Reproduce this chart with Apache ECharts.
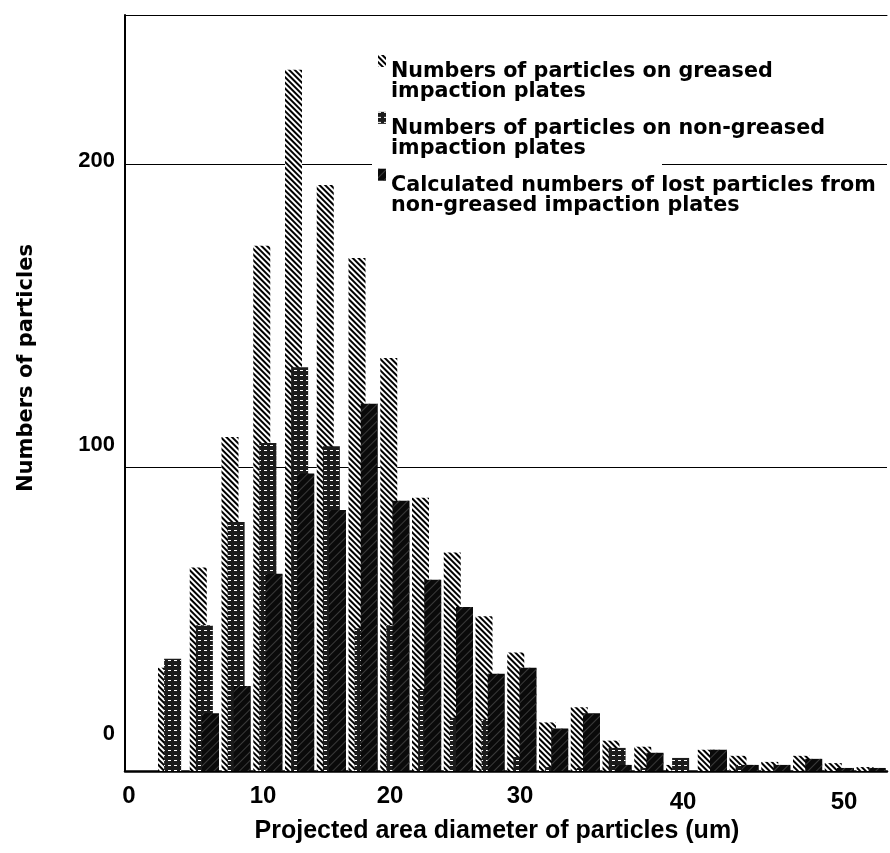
<!DOCTYPE html>
<html>
<head>
<meta charset="utf-8">
<script src="https://cdn.jsdelivr.net/npm/echarts@6/dist/echarts.min.js"></script>
<style>
html,body{margin:0;padding:0;background:#fff;}
#chart{width:890px;height:853px;}
</style>
</head>
<body>
<div id="chart"></div>
<script>
// ---- data ----
const binLabels = ['0-2.5','2.5-5','5-7.5','7.5-10','10-12.5','12.5-15','15-17.5','17.5-20','20-22.5','22.5-25',
  '25-27.5','27.5-30','30-32.5','32.5-35','35-37.5','37.5-40','40-42.5','42.5-45','45-47.5','47.5-50',
  '50-52.5','52.5-55','55-57.5','57.5-60'];
const greased    = [0, 34, 67, 110, 173, 231, 193, 169, 136, 90, 72, 51, 39, 16, 21, 10, 8, 2, 7, 5, 3, 5, 2.6, 1.3];
const nonGreased = [0, 37, 48, 82, 108, 133, 107, 47, 48, 27, 17.5, 17, 4.6, 1.3, 1, 7.6, 1, 4.3, 0, 2, 0, 0, 0, 0];
const lost       = [0, 0, 19, 28, 65, 98, 86, 121, 89, 63, 54, 32, 34, 14, 19, 2, 6, 0, 7, 2, 2, 4, 1, 1];
const seriesNames = [
  'Numbers of particles on greased\nimpaction plates',
  'Numbers of particles on non-greased\nimpaction plates',
  'Calculated numbers of lost particles from\nnon-greased impaction plates'
];
const xTickLabels = ['0', '10', '20', '30', '40', '50'];
const yTickLabels = ['0', '100', '200'];
const xTitle = 'Projected area diameter of particles (um)';
const yTitle = 'Numbers of particles';

// ---- styling ----
const xNudge = { '0': [4, 0], '10': [11, 0], '20': [11, 0], '30': [14, 0], '40': [50, 6], '50': [84, 6] };
const yNudge = { '0': -37, '100': -22, '200': -3 };

const xRich = {};
xTickLabels.forEach((t, i) => {
  const n = xNudge[t] || [0, 0];
  xRich['x' + i] = { padding: [n[1], 0, 0, n[0] * 2], fontSize: 24, fontWeight: 'bold', fontFamily: 'Liberation Sans', color: '#000' };
});
const yRich = {};
yTickLabels.forEach((t, i) => {
  const d = yNudge[t] || 0;
  yRich['y' + i] = { padding: d < 0 ? [0, 0, -2 * d, 0] : [2 * d, 0, 0, 0], fontSize: 22, fontWeight: 'bold', fontFamily: 'Liberation Sans', color: '#000' };
});

const legendFont = { fontFamily: 'DejaVu Sans', fontWeight: 'bold', fontSize: 20.7, lineHeight: 19.5, color: '#000' };

const chart = echarts.init(document.getElementById('chart'), null, { renderer: 'canvas' });
chart.setOption({
  animation: false,
  backgroundColor: '#fff',
  grid: { left: 125, top: 15, width: 768, height: 756, show: false, containLabel: false },
  legend: {
    orient: 'vertical', left: 378, top: 20.7, padding: 0, itemGap: -24.5,
    itemWidth: 8, itemHeight: 12, icon: 'rect', selectedMode: false,
    data: seriesNames,
    formatter: (name) => '{g|\u00a0}\n' + name.split('\n').map(s => '{t|' + s + '}').join('\n'),
    textStyle: Object.assign({}, legendFont, {
      rich: {
        g: { fontSize: 2, lineHeight: 41.6 },
        t: Object.assign({}, legendFont)
      }
    })
  },
  graphic: [
    { type: 'rect', z: 3, silent: true, shape: { x: 372, y: 161, width: 290, height: 6 }, style: { fill: '#fff' } }
  ],
  xAxis: [
    {
      type: 'category', data: binLabels, boundaryGap: true,
      axisLine: { show: true, lineStyle: { color: '#000', width: 2.5 } },
      axisTick: { show: false }, axisLabel: { show: false }, splitLine: { show: false }
    },
    {
      type: 'value', min: 0, max: 60, interval: 10, position: 'bottom',
      axisLine: { show: false }, axisTick: { show: false }, splitLine: { show: false },
      axisLabel: {
        margin: 13,
        formatter: (v) => { const i = xTickLabels.indexOf(String(v)); return i < 0 ? '' : '{x' + i + '|' + xTickLabels[i] + '}'; },
        rich: xRich
      },
      name: xTitle, nameLocation: 'middle', nameGap: 45,
      nameTextStyle: { fontFamily: 'Liberation Sans', fontWeight: 'bold', fontSize: 25, color: '#000', padding: [0, 18, 0, 0] }
    },
    {
      type: 'value', min: 0, max: 60, position: 'top',
      axisLine: { show: true, lineStyle: { color: '#000', width: 1 } },
      axisTick: { show: false }, axisLabel: { show: false }, splitLine: { show: false }
    }
  ],
  yAxis: {
    type: 'value', min: 0, max: 249, interval: 100,
    axisLine: { show: true, lineStyle: { color: '#000', width: 2 } },
    axisTick: { show: false },
    splitLine: { show: true, lineStyle: { color: '#000', width: 1 } },
    axisLabel: {
      margin: 10,
      formatter: (v) => { const i = yTickLabels.indexOf(String(v)); return i < 0 ? '' : '{y' + i + '|' + yTickLabels[i] + '}'; },
      rich: yRich
    },
    name: yTitle, nameLocation: 'middle', nameGap: 88,
    nameTextStyle: { fontFamily: 'DejaVu Sans', fontWeight: 'bold', fontSize: 21, color: '#000', padding: [0, 0, 0, 50] }
  },
  series: [
    {
      name: seriesNames[0], type: 'bar', xAxisIndex: 0, data: greased,
      barWidth: 17, barGap: '-64%',
      itemStyle: { color: '#ffffff', decal: { symbol: 'rect', symbolSize: 1, dashArrayX: [1, 0], dashArrayY: [2, 2], rotation: Math.PI / 4, color: '#000' } }
    },
    {
      name: seriesNames[1], type: 'bar', xAxisIndex: 0, data: nonGreased,
      barWidth: 17, barGap: '-64%',
      itemStyle: { color: '#1c1c1c', decal: { symbol: 'rect', symbolSize: 1, dashArrayX: [3, 3], dashArrayY: [1, 4], rotation: 0, color: '#ffffff' } }
    },
    {
      name: seriesNames[2], type: 'bar', xAxisIndex: 0, data: lost,
      barWidth: 17, barGap: '-64%',
      itemStyle: { color: '#0a0a0a', decal: { symbol: 'rect', symbolSize: 1, dashArrayX: [1, 0], dashArrayY: [1, 5], rotation: -Math.PI / 4, color: '#3a3a3a' } }
    }
  ]
});
</script>
</body>
</html>
